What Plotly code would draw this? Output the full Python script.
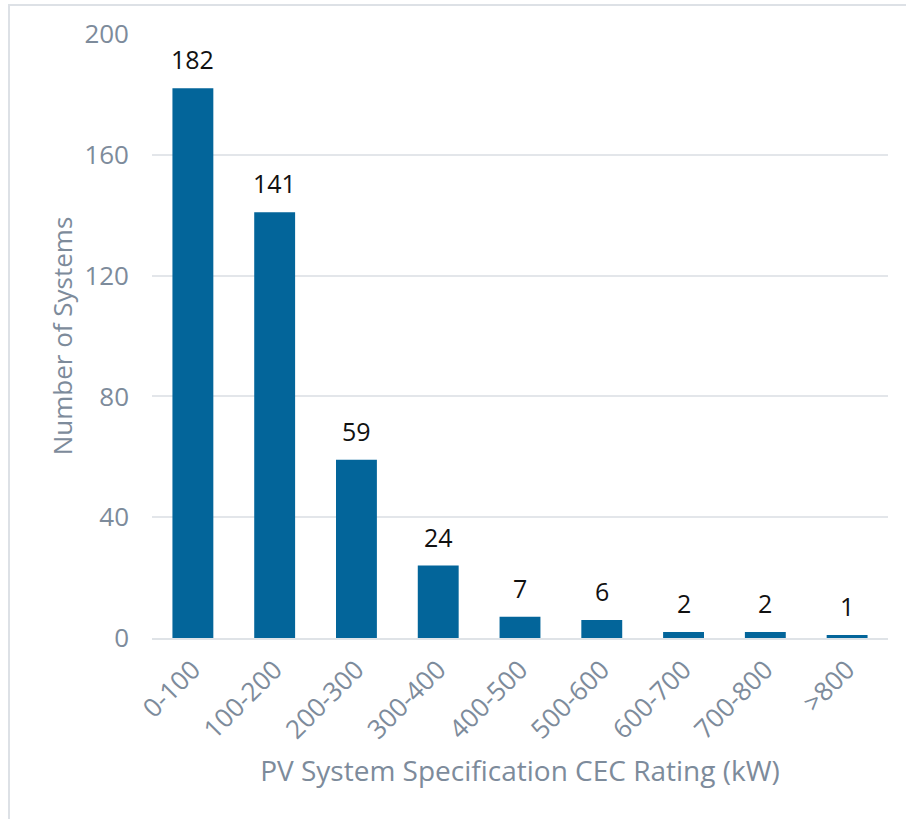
import plotly.graph_objects as go

categories = ["0-100", "100-200", "200-300", "300-400", "400-500", "500-600", "600-700", "700-800", ">800"]
counts = [182, 141, 59, 24, 7, 6, 2, 2, 1]
y_ticks = [0, 40, 80, 120, 160, 200]

FONT = "'Open Sans', sans-serif"
GRAY = "#7d8b9b"

fig = go.Figure(go.Bar(
    x=categories, y=counts,
    marker=dict(color="#03659a", line=dict(width=0)),
    cliponaxis=False,
))

for c, v in zip(categories, counts):
    fig.add_annotation(x=c, y=v, text=str(v), showarrow=False,
                       yanchor="bottom", yshift=10,
                       font=dict(size=25, color="#111111", family=FONT))

W, H = 906, 819
L, R, T, B = 152, 18, 34, 181
pw, ph = W - L - R, H - T - B

def px_to_paper_x(px):
    return (px - L) / pw

def py_to_paper_y(py):
    return (H - B - py) / ph

border = "#dde1e6"
fig.update_layout(
    width=W, height=H,
    margin=dict(l=L, r=R, t=T, b=B),
    paper_bgcolor="white", plot_bgcolor="white",
    bargap=0.5, showlegend=False,
    font=dict(family=FONT, color=GRAY, size=24),
    xaxis=dict(
        title=dict(text="PV System Specification CEC Rating (kW)", font=dict(size=28, color=GRAY), standoff=16),
        tickangle=-45, tickfont=dict(size=26, color=GRAY),
        showgrid=False, showline=True, linecolor="#dfe3e7", linewidth=2,
        ticks="", ticklabelstandoff=4,
    ),
    yaxis=dict(
        title=dict(text="Number of Systems", font=dict(size=26, color=GRAY), standoff=4),
        range=[0, 200], tickvals=y_ticks, tickfont=dict(size=26, color=GRAY),
        showgrid=True, gridcolor="#e3e6ea", gridwidth=1.5,
        zeroline=False, showline=False, ticks="", ticklen=0,
        ticklabelstandoff=22,
    ),
    shapes=[
        dict(type="line", xref="paper", yref="paper",
             x0=px_to_paper_x(9), x1=px_to_paper_x(9),
             y0=py_to_paper_y(H + 5), y1=py_to_paper_y(4),
             line=dict(color=border, width=2)),
        dict(type="line", xref="paper", yref="paper",
             x0=px_to_paper_x(8), x1=px_to_paper_x(W + 5),
             y0=py_to_paper_y(5), y1=py_to_paper_y(5),
             line=dict(color=border, width=2)),
    ],
)

fig.write_html("out.html", config={"displayModeBar": False},
               post_script="document.body.style.margin='0px';")
